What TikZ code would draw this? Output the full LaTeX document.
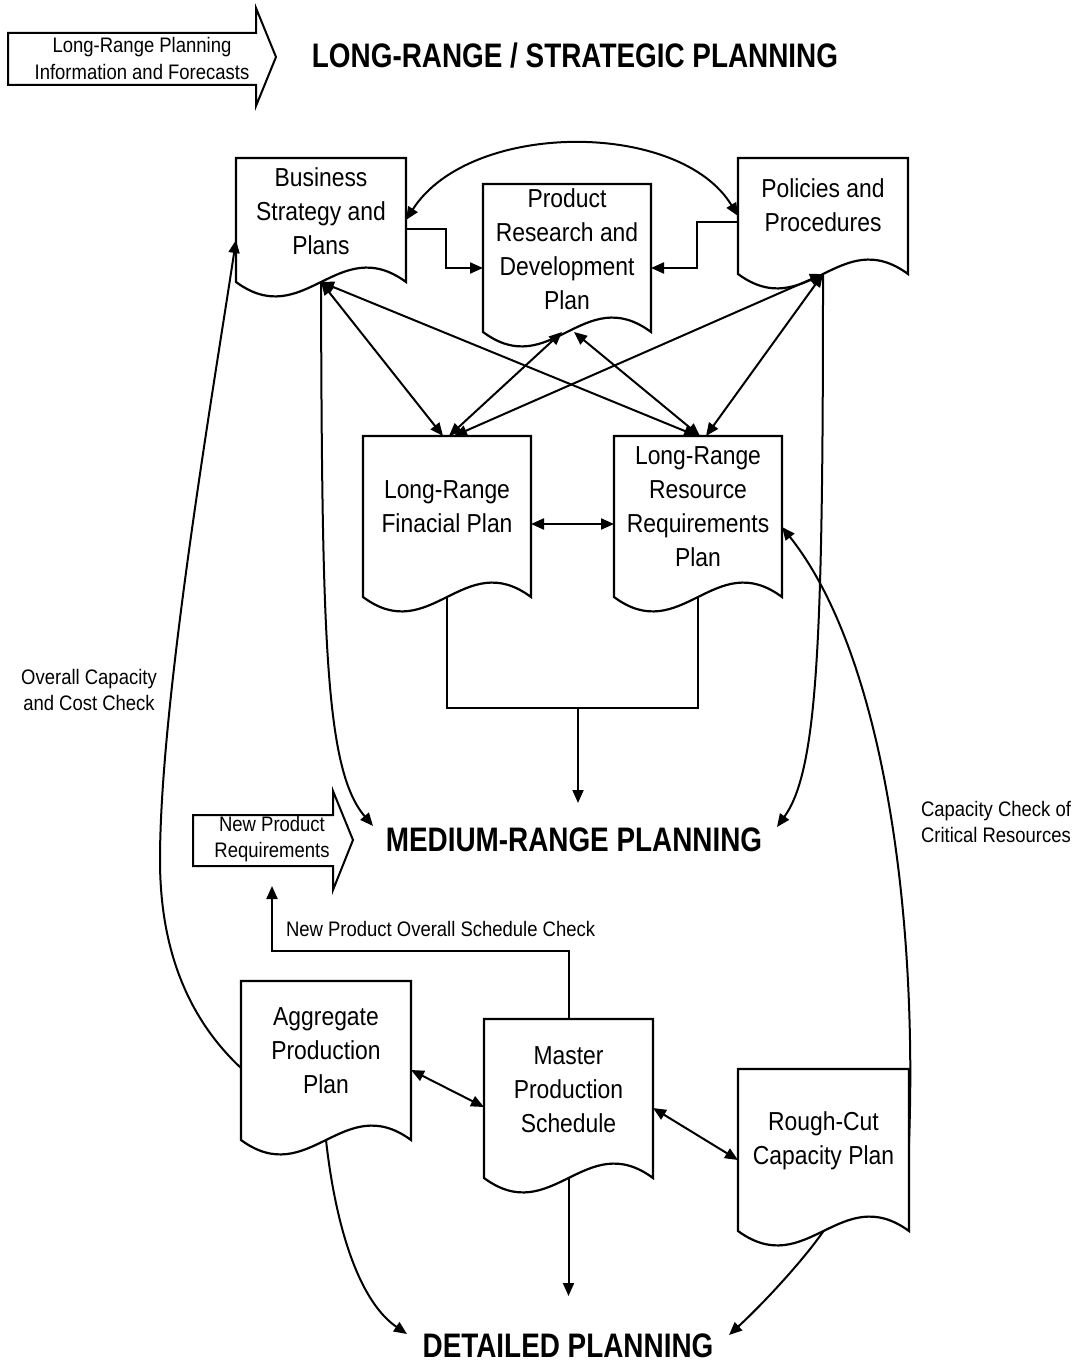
\documentclass[tikz,border=0pt]{standalone}
\usepackage{fontspec}
\setmainfont{Liberation Sans}[FakeStretch=0.88]
\newfontfamily\headfont{Liberation Sans}[FakeStretch=0.82]
\usetikzlibrary{arrows.meta,calc}
\tikzset{
  docbox/.style={rectangle,inner sep=0pt,outer sep=0pt},
  docline/.style={line width=1.1pt,line join=miter},
  doctext/.style={align=center,inner sep=0pt,font=\fontsize{13}{17}\selectfont},
  lbl/.style={inner sep=0pt,font=\fontsize{10.5}{13}\selectfont},
  head/.style={inner sep=0pt,font=\headfont\bfseries\fontsize{17}{20}\selectfont},
  blockarrow/.style={line width=1pt,line join=miter},
}
\newcommand\docnode[7]{%
  \node[docbox,minimum width=#4*0.5pt,minimum height=#5*0.5pt,anchor=north west] (#1) at (#2,-#3) {};
  \draw[docline] (#1.south west) -- (#1.north west) -- (#1.north east) -- (#1.south east)
    .. controls ($(#1.south west)!0.6!(#1.south east)+(0,50)$) and ($(#1.south west)!0.4!(#1.south east)+(0,-50)$) .. (#1.south west) -- cycle;
  \node[doctext] (#1-t) at (#2+#4/2,-#6) {#7};}
\begin{document}
\begin{tikzpicture}[x=0.5pt,y=0.5pt,line width=1pt,>={Triangle[length=6.5pt,width=5.5pt]}]
\useasboundingbox (0,0) rectangle (1076,-1364);

% block arrows
\draw[blockarrow] (8,-33) -- (256,-33) -- (256,-8) -- (276,-57) -- (256,-106) -- (256,-85) -- (8,-85) -- cycle;
\node[lbl,align=center,font=\fontsize{10.5}{13.5}\selectfont] (lrpi) at (142,-58) {Long-Range Planning\\Information and Forecasts};
\draw[blockarrow] (193,-815) -- (333,-815) -- (333,-791) -- (353,-840) -- (333,-890) -- (333,-866) -- (193,-866) -- cycle;
\node[lbl,align=center] (npr) at (272,-839) {New Product\\Requirements};

% headings
\node[head,anchor=base] (lrsp) at (575,-68) {LONG-RANGE / STRATEGIC PLANNING};
\node[head,anchor=base] (mrp) at (574,-851) {MEDIUM-RANGE PLANNING};
\node[head,anchor=base] (dp) at (568,-1357) {DETAILED PLANNING};

% documents
\docnode{bsp}{236}{158}{170}{124}{211}{Business\\Strategy and\\Plans}
\docnode{prd}{483}{184}{168}{148}{249}{Product\\Research and\\Development\\Plan}
\docnode{pp}{738}{158}{170}{116}{205}{Policies and\\Procedures}
\docnode{fp}{363}{436}{168}{161}{507}{Long-Range\\Finacial Plan}
\docnode{rrp}{614}{436}{168}{161}{507}{Long-Range\\Resource\\Requirements\\Plan}
\docnode{app}{241}{981}{170}{159}{1051}{Aggregate\\Production\\Plan}
\docnode{mps}{484}{1019}{169}{159}{1090}{Master\\Production\\Schedule}
\docnode{rc}{738}{1069}{171}{162}{1141}{Rough-Cut\\Capacity Plan}

% labels
\node[lbl,align=center] (occ) at (89,-690) {Overall Capacity\\and Cost Check};
\node[lbl,align=left,anchor=west] (ccr) at (920,-822) {Capacity Check of\\Critical Resources};
\node[lbl,anchor=west] (npos) at (285,-929) {New Product Overall Schedule Check};

% free ends
\coordinate (mrp-l) at (373,-826);
\coordinate (mrp-r) at (777,-827);
\coordinate (mrp-top) at (578,-803);
\coordinate (jn) at (578,-708);
\coordinate (dp-l) at (407,-1334);
\coordinate (dp-r) at (729,-1335);
\coordinate (dp-top) at (568,-1296);
\coordinate (npc) at (272,-951);
\coordinate (npr-in) at (272,-886);

% top row connectors
\draw[<->] (bsp.east) .. controls (470,-120) and (680,-120) .. (pp.west);
\draw[->] ([yshift=-4.5pt]bsp.east) -- ++(40,0) |- ([yshift=-5pt]prd.west);
\draw[->] ([yshift=-3pt]pp.west) -- ++(-41,0) |- ([yshift=-5pt]prd.east);

% crossing arrows
\draw[<->] (bsp.south) -- ([xshift=-2pt]fp.north);
\draw[<->] (bsp.south) -- ([xshift=-0.5pt]rrp.north);
\draw[<->] ([xshift=-2.5pt]prd.south) -- ([xshift=1pt]fp.north);
\draw[<->] ([xshift=3.5pt]prd.south) -- ([xshift=1pt]rrp.north);
\draw[<->] (pp.south) -- ([xshift=3.5pt]fp.north);
\draw[<->] (pp.south) -- ([xshift=4pt]rrp.north);

\draw[<->] ([yshift=-3.75pt]fp.east) -- ([yshift=-3.75pt]rrp.west);

% join to medium range
\draw (fp.south) -- (fp.south |- jn) -- (rrp.south |- jn) -- (rrp.south);
\draw[->] (jn) -- (mrp-top);
\draw[->] (bsp.south) .. controls (322,-640) and (325,-770) .. (mrp-l);
\draw[->] (pp.south) .. controls (823,-640) and (818,-770) .. (mrp-r);

% feedback loops
\draw[->] ([yshift=-3.75pt]app.west) .. controls (195,-1025) and (160,-960) .. (160,-860)
   .. controls (160,-700) and (215,-380) .. ([yshift=-10pt]bsp.west);
\draw[->] ([yshift=3.5pt]rc.east) .. controls (918,-900) and (880,-650) .. ([yshift=-5.25pt]rrp.east);

% bottom row
\draw[<->] ([yshift=-4.75pt]app.east) -- ([yshift=-4.25pt]mps.west);
\draw[<->] ([yshift=-4.75pt]mps.east) -- ([yshift=-5pt]rc.west);
\draw[->] (mps.north) |- (npc) -- (npr-in);

\draw[->] (app.south) .. controls (336,-1230) and (360,-1302) .. (dp-l);
\draw[->] (mps.south) -- (mps.south |- dp-top);
\draw[->] (rc.south) .. controls (805,-1258) and (765,-1302) .. (dp-r);
\end{tikzpicture}
\end{document}
